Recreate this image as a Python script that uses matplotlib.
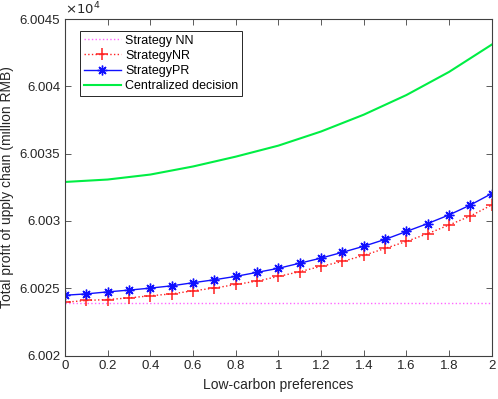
import numpy as np
import matplotlib
matplotlib.use('Agg')
import matplotlib.pyplot as plt
from matplotlib.ticker import FuncFormatter

plt.rcParams['font.family'] = ['Liberation Sans', 'DejaVu Sans']

# low-carbon preference levels
x = [0.0, 0.1, 0.2, 0.3, 0.4, 0.5, 0.6, 0.7, 0.8, 0.9, 1.0,
     1.1, 1.2, 1.3, 1.4, 1.5, 1.6, 1.7, 1.8, 1.9, 2.0]

# total profit, million RMB
nn = [60023.89] * 21
nr = [60023.96, 60024.09, 60024.16, 60024.28, 60024.44, 60024.58, 60024.81,
      60025.01, 60025.28, 60025.53, 60025.88, 60026.23, 60026.63, 60026.99,
      60027.44, 60027.96, 60028.48, 60029.06, 60029.70, 60030.37, 60031.19]
pr = [60024.48, 60024.58, 60024.73, 60024.86, 60025.01, 60025.18, 60025.41,
      60025.63, 60025.88, 60026.18, 60026.48, 60026.86, 60027.24, 60027.67,
      60028.12, 60028.63, 60029.22, 60029.81, 60030.45, 60031.19, 60032.04]
x_cd = [0.0, 0.2, 0.4, 0.6, 0.8, 1.0, 1.2, 1.4, 1.6, 1.8, 2.0]
cd = [60032.90, 60033.08, 60033.45, 60034.05, 60034.78, 60035.60,
      60036.65, 60037.90, 60039.36, 60041.08, 60043.11]

fig = plt.figure(figsize=(4.98, 3.99), dpi=100)
ax = fig.add_axes([0.1305, 0.109, 0.857, 0.843])

ax.plot(x, nn, ':', color='#ff66ff', lw=1.0, label='Strategy NN')
ax.plot(x, nr, ':', color='#ff2020', lw=1.0, marker='+', markersize=8,
        markeredgewidth=1.1, label='StrategyNR')
ax.plot(x, pr, '-', color='#1010ff', lw=1.0, marker=(8, 2, 0), markersize=7,
        markeredgewidth=1.0, label='StrategyPR')
ax.plot(x_cd, cd, '-', color='#00ee44', lw=1.5, label='Centralized decision')

ax.set_xlim(0, 2)
ax.set_ylim(60020, 60045)
ax.set_xticks(np.arange(0, 2.01, 0.2))
ax.set_yticks(np.arange(60020, 60045.1, 5))
ax.xaxis.set_major_formatter(FuncFormatter(lambda v, p: '%g' % round(v, 1)))
ax.yaxis.set_major_formatter(FuncFormatter(lambda v, p: '%g' % round(v / 1e4, 5)))

for s in ax.spines.values():
    s.set_color('#404040')
    s.set_linewidth(0.8)
ax.tick_params(direction='in', length=4, width=0.6, color='#404040',
               labelcolor='#262626', labelsize=9.5, top=True, right=True)

ax.set_xlabel('Low-carbon preferences', fontsize=10, color='#262626')
ax.set_ylabel('Total profit of upply chain (million RMB)', fontsize=10,
              color='#262626')
ax.text(0.0, 1.005, r'$\times10^{4}$', transform=ax.transAxes, fontsize=9.5,
        color='#262626', ha='left', va='bottom')

leg = ax.legend(loc='upper left', bbox_to_anchor=(0.035, 0.965), fontsize=9,
                fancybox=False, framealpha=1, edgecolor='#262626',
                borderpad=0.3, labelspacing=0.25, handlelength=3.0,
                handletextpad=0.3, borderaxespad=0)
leg.get_frame().set_linewidth(0.7)

fig.savefig('out.png', dpi=100)
